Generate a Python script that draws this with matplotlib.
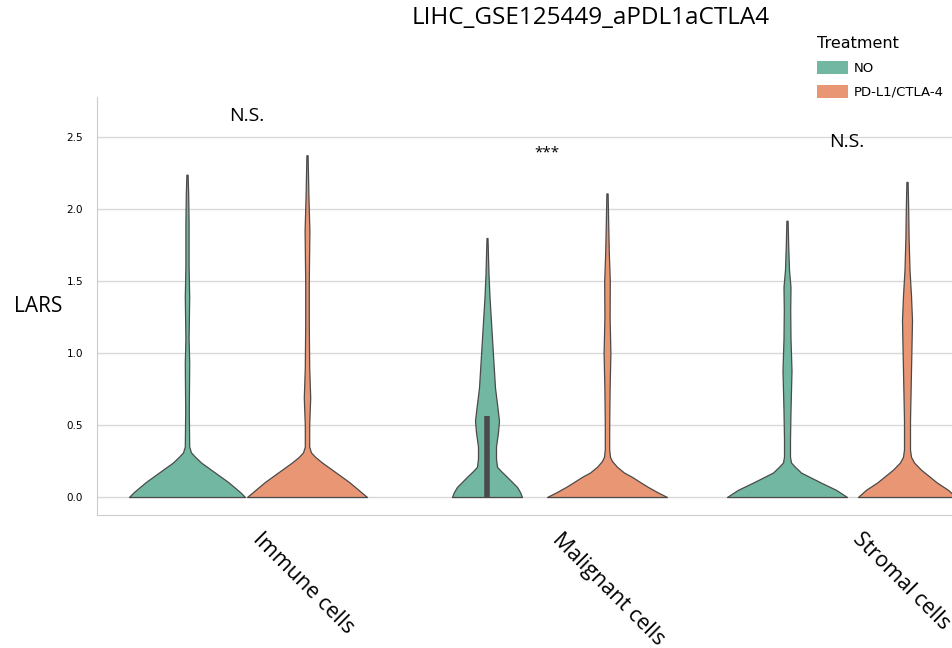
import matplotlib.pyplot as plt
import matplotlib.transforms as mtransforms
from matplotlib.patches import Patch

# --- Data (density profiles: value -> half width) ---
categories = ["Immune cells", "Malignant cells", "Stromal cells"]
treatments = ["NO", "PD-L1/CTLA-4"]
colors = ["#72b7a2", "#e99675"]

# one profile per (category, treatment): y values and half widths (px / 300)
prof_y = {
    ("Immune cells", "NO"): [0, 0.035, 0.07, 0.105, 0.14, 0.19, 0.24, 0.28, 0.31, 0.35, 0.6, 0.93, 1.1, 1.39, 1.6, 1.9, 2.1, 2.24],
    ("Immune cells", "PD-L1/CTLA-4"): [0, 0.035, 0.07, 0.105, 0.14, 0.19, 0.24, 0.28, 0.31, 0.35, 0.5, 0.69, 0.9, 1.2, 1.5, 1.85, 2.1, 2.375],
    ("Malignant cells", "NO"): [0, 0.035, 0.07, 0.105, 0.14, 0.18, 0.21, 0.27, 0.35, 0.45, 0.53, 0.62, 0.76, 0.93, 1.16, 1.39, 1.55, 1.7, 1.8],
    ("Malignant cells", "PD-L1/CTLA-4"): [0, 0.035, 0.07, 0.1, 0.14, 0.17, 0.21, 0.25, 0.28, 0.33, 0.5, 0.75, 1.0, 1.25, 1.5, 1.7, 1.9, 2.11],
    ("Stromal cells", "NO"): [0, 0.05, 0.1, 0.135, 0.17, 0.21, 0.24, 0.28, 0.4, 0.6, 0.88, 1.1, 1.3, 1.46, 1.58, 1.75, 1.92],
    ("Stromal cells", "PD-L1/CTLA-4"): [0, 0.05, 0.1, 0.145, 0.19, 0.24, 0.28, 0.33, 0.53, 0.88, 1.05, 1.23, 1.4, 1.58, 1.8, 2.0, 2.19],
}
prof_w = {
    ("Immune cells", "NO"): [58, 53, 47, 41, 34, 24, 14, 8, 4, 2.2, 1.8, 2.2, 1.6, 2.2, 1.6, 1.6, 1.2, 0.6],
    ("Immune cells", "PD-L1/CTLA-4"): [60, 54, 48, 42, 35, 25, 15, 8, 4, 2.2, 2.2, 3.2, 2.2, 1.8, 1.8, 2.4, 1.4, 0.6],
    ("Malignant cells", "NO"): [35, 33, 30, 25, 20, 14, 10, 9, 9, 11, 12, 10.5, 8, 6.5, 4.5, 2.5, 1.5, 0.9, 0.5],
    ("Malignant cells", "PD-L1/CTLA-4"): [60, 50, 41, 34, 25, 17, 10, 5, 3, 2.2, 2.2, 2.6, 3.4, 2.6, 2.8, 1.8, 1.2, 0.6],
    ("Stromal cells", "NO"): [60, 49, 34, 24, 14, 8, 4, 3, 3, 3.5, 4.5, 3.5, 3.2, 3.5, 2, 1.2, 0.6],
    ("Stromal cells", "PD-L1/CTLA-4"): [49, 41, 30, 22, 14, 7, 4, 3, 3, 4, 4.5, 5, 4, 2.5, 1.6, 1.2, 0.6],
}
# interquartile box (q1, q3)
box_q = {
    ("Malignant cells", "NO"): (0.0, 0.56),
}
# significance labels and their heights
sig_labels = ["N.S.", "***", "N.S."]
sig_y = [2.65, 2.39, 2.47]

# --- Figure ---
fig = plt.figure(figsize=(9.52, 6.48), dpi=100)
ax = fig.add_axes([97 / 952, 1 - 515 / 648, 900 / 952, 418 / 648])

offsets = [-0.2, 0.2]
for i, cat in enumerate(categories):
    for j, tr in enumerate(treatments):
        x0 = i + offsets[j]
        ys = prof_y[(cat, tr)]
        ws = [w / 300 for w in prof_w[(cat, tr)]]
        left = [x0 - w for w in ws]
        right = [x0 + w for w in ws]
        ax.fill_betweenx(ys, left, right, facecolor=colors[j],
                         edgecolor="#4a4a4a", linewidth=0.9, zorder=3)
        if (cat, tr) in box_q:
            q1, q3 = box_q[(cat, tr)]
            ax.plot([x0, x0], [q1, q3], color="#4a4a4a", linewidth=4,
                    solid_capstyle="butt", zorder=4)

for i, (lab, yv) in enumerate(zip(sig_labels, sig_y)):
    ax.text(i, yv, lab, ha="center", va="center",
            fontsize=14 if lab != "***" else 11, family="Open Sans")

# --- Axes styling ---
ax.set_xlim(-0.5, 2.5)
ax.set_ylim(-0.125, 2.78)
ax.set_yticks([0, 0.5, 1.0, 1.5, 2.0, 2.5])
ax.set_yticklabels(["0.0", "0.5", "1.0", "1.5", "2.0", "2.5"], fontsize=7.5)
ax.set_xticks(range(len(categories)))
ax.set_xticklabels([])

# rotated category labels, placed just below the axis
trans = mtransforms.blended_transform_factory(ax.transData, ax.transAxes)
shift = mtransforms.ScaledTranslation(16 / 100, -14 / 100, fig.dpi_scale_trans)
for i, cat in enumerate(categories):
    ax.text(i, 0, cat, transform=trans + shift, rotation=-45,
            rotation_mode="anchor", ha="left", va="top",
            fontsize=15.5, family="Open Sans")

ax.tick_params(axis="both", length=0)
ax.tick_params(axis="y", pad=10)
ax.yaxis.grid(True, color="#d9d9d9", linewidth=1)
ax.set_axisbelow(True)
for s in ["top", "right"]:
    ax.spines[s].set_visible(False)
for s in ["left", "bottom"]:
    ax.spines[s].set_color("#cccccc")

fig.text(38 / 952, 1 - 306 / 648, "LARS", ha="center", va="center",
         fontsize=15, family="Open Sans")
fig.text(591 / 952, 1 - 18 / 648, "LIHC_GSE125449_aPDL1aCTLA4", ha="center",
         va="center", fontsize=17.5, family="Open Sans")

handles = [Patch(facecolor=c, edgecolor="none") for c in colors]
leg = fig.legend(handles, treatments, title="Treatment", loc="upper left",
                 bbox_to_anchor=(812 / 952, 1 - 31 / 648), frameon=False,
                 fontsize=9.5, title_fontsize=11.5, handlelength=2.3,
                 handleheight=1.1, labelspacing=0.75, handletextpad=0.5,
                 borderaxespad=0)
leg._legend_box.align = "left"

fig.savefig("out.png", dpi=100)
